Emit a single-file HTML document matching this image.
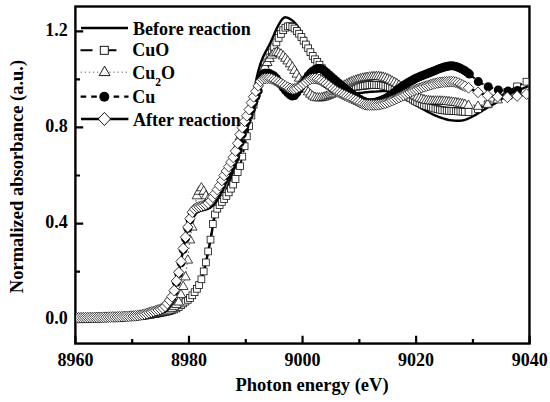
<!DOCTYPE html>
<html><head><meta charset="utf-8"><style>
html,body{margin:0;padding:0;background:#fff;width:550px;height:402px;overflow:hidden}
svg{display:block}
text{font-family:"Liberation Serif",serif}
</style></head><body>
<svg width="550" height="402" viewBox="0 0 550 402">
<defs>
<clipPath id="pc"><rect x="76.5" y="7.6" width="451.8" height="334.8"/></clipPath>
<marker id="msq" markerUnits="userSpaceOnUse" markerWidth="12" markerHeight="12" refX="6" refY="6" overflow="visible"><rect x="2.6" y="2.6" width="6.8" height="6.8" fill="#fff" stroke="#111" stroke-width="0.8"/></marker>
<marker id="mtr" markerUnits="userSpaceOnUse" markerWidth="12" markerHeight="12" refX="6" refY="6" overflow="visible"><path d="M6 1.5 L10.8 9.8 L1.2 9.8 Z" fill="#fff" stroke="#111" stroke-width="0.8"/></marker>
<marker id="mci" markerUnits="userSpaceOnUse" markerWidth="12" markerHeight="12" refX="6" refY="6" overflow="visible"><circle cx="6" cy="6" r="4.5" fill="#000"/></marker>
<marker id="mdi" markerUnits="userSpaceOnUse" markerWidth="14" markerHeight="14" refX="7" refY="7" overflow="visible"><path d="M7 1.6 L12.25 7 L7 12.4 L1.75 7 Z" fill="#fff" stroke="#111" stroke-width="0.8"/></marker>
</defs>
<rect width="550" height="402" fill="#fff"/>

<rect x="75.4" y="6.5" width="454.05" height="337.05" fill="none" stroke="#000" stroke-width="2.4"/>
<path d="M75.40 343.55V335.75 M132.19 343.55V338.95 M188.98 343.55V335.75 M245.77 343.55V338.95 M302.56 343.55V335.75 M359.35 343.55V338.95 M416.14 343.55V335.75 M472.93 343.55V338.95 M529.72 343.55V335.75 M75.4 319.70H83.20 M75.4 271.64H80.00 M75.4 223.58H83.20 M75.4 175.52H80.00 M75.4 127.46H83.20 M75.4 79.40H80.00 M75.4 31.34H83.20" stroke="#000" stroke-width="2.2" fill="none"/>
<g clip-path="url(#pc)" fill="none">
<polyline points="76,318 77,318 78,318 79,318 80,318 81,318 82,318 83,317.9 84,317.9 85,317.9 86,317.9 87,317.9 88,317.9 89,317.9 90,317.8 91,317.8 92,317.8 93,317.8 94,317.8 95,317.8 96,317.7 97,317.7 98,317.7 99,317.7 100,317.6 101,317.6 102,317.6 103,317.6 104,317.6 105,317.5 106,317.5 107,317.5 108,317.5 109,317.4 110,317.4 111,317.4 112,317.3 113,317.3 114,317.3 115,317.2 116,317.2 117,317.2 118,317.1 119,317.1 120,317 121,317 122,316.9 123,316.9 124,316.8 125,316.8 126,316.7 127,316.6 128,316.6 129,316.5 130,316.5 131,316.4 132,316.3 133,316.3 134,316.2 135,316.1 136,316.1 137,316 138,315.9 139,315.9 140,315.8 141,315.7 142,315.6 143,315.6 144,315.5 145,315.4 146,315.2 147,315.1 148,315 149,314.8 150,314.7 151,314.6 152,314.4 153,314.2 154,314.1 155,313.9 156,313.7 157,313.5 158,313.4 159,313.2 160,313 161,312.8 162,312.6 163,312.4 164,312.2 165,312 166,311.8 167,311.5 168,311.2 169,310.9 170,310.6 171,310.2 172,309.8 173,309.4 174,308.9 175,308.5 176,308 177,307.5 178,307 179,306.5 180,306 181,305.4 182,304.8 183,304.1 184,303.3 185,302.5 186,301.7 187,300.8 188,299.9 189,298.9 190,298 191,297 192,295.9 193,294.7 194,293.4 195,291.9 196,290.4 197,288.7 198,287 199,285 200,282.7 201,280 202,277 203,273.7 204,270.2 205,266.4 206,262 207,257.3 208,252.4 209,247.6 210,242.6 211,237.2 212,231 213,225 214,219.3 215,215.3 216,212.7 217,210.8 218,209 219,207.3 220,205.8 221,204.2 222,202.4 223,200 224,197.3 225,194.5 226,191.7 227,188.8 228,186 229,183.2 230,180.5 231,177.7 232,175 233,172.2 234,169.5 235,166.7 236,164 237,161.3 238,158.8 239,156.2 240,153.7 241,151.1 242,148.3 243,145 244,141.5 245,137.7 246,133.9 247,130 248,126 249,121.8 250,117.4 251,112.7 252,108 253,102.2 254,95.1 255,87.8 256,81.1 257,76.2 258,72.2 259,68.5 260,65.2 261,62.2 262,59.6 263,57.2 264,55 265,53 266,51.1 267,49.3 268,47.4 269,45.6 270,43.6 271,41.5 272,39.3 273,37 274,34.7 275,32.3 276,30.1 277,28 278,26 279,24.2 280,22.5 281,20.9 282,19.5 283,18.4 284,17.7 285,17.3 286,17.4 287,17.6 288,17.9 289,18.4 290,19 291,19.6 292,20.3 293,21.1 294,22 295,23.1 296,24.3 297,25.5 298,26.9 299,28.4 300,30 301,31.7 302,33.3 303,35 304,36.7 305,38.4 306,40.1 307,41.8 308,43.5 309,45.3 310,47 311,48.8 312,50.6 313,52.4 314,54.2 315,56 316,57.8 317,59.6 318,61.4 319,63.2 320,65 321,66.7 322,68.4 323,70 324,71.6 325,73.1 326,74.5 327,76 328,77.3 329,78.7 330,80 331,81.3 332,82.4 333,83.5 334,84.5 335,85.4 336,86.3 337,87.1 338,87.8 339,88.4 340,89 341,89.5 342,90 343,90.5 344,91 345,91.4 346,91.8 347,92.1 348,92.4 349,92.7 350,92.9 351,93.1 352,93.2 353,93.3 354,93.3 355,93.3 356,93.2 357,93.2 358,93.1 359,93 360,93 361,92.9 362,92.8 363,92.6 364,92.5 365,92.4 366,92.3 367,92.2 368,92.1 369,92 370,91.9 371,91.8 372,91.7 373,91.7 374,91.6 375,91.6 376,91.6 377,91.5 378,91.4 379,91.4 380,91.3 381,91.2 382,91.1 383,91.1 384,91 385,91 386,91 387,91 388,91.1 389,91.2 390,91.3 391,91.5 392,91.7 393,92 394,92.4 395,92.8 396,93.3 397,93.7 398,94.3 399,94.8 400,95.4 401,96 402,96.6 403,97.2 404,97.8 405,98.4 406,99 407,99.6 408,100.2 409,100.8 410,101.4 411,102 412,102.7 413,103.3 414,103.9 415,104.5 416,105.1 417,105.7 418,106.3 419,106.9 420,107.5 421,108.1 422,108.7 423,109.2 424,109.8 425,110.3 426,110.9 427,111.4 428,111.9 429,112.5 430,113 431,113.5 432,114 433,114.5 434,114.9 435,115.4 436,115.8 437,116.2 438,116.6 439,117 440,117.3 441,117.7 442,118 443,118.4 444,118.7 445,119 446,119.3 447,119.5 448,119.8 449,120 450,120.1 451,120.3 452,120.4 453,120.5 454,120.6 455,120.6 456,120.7 457,120.7 458,120.7 459,120.7 460,120.7 461,120.6 462,120.5 463,120.4 464,120.1 465,119.9 466,119.5 467,119.1 468,118.7 469,118.2 470,117.7 471,117.3 472,116.8 473,116.2 474,115.7 475,115.1 476,114.6 477,114 478,113.4 479,112.8 480,112.2 481,111.6 482,110.9 483,110.3 484,109.7 485,109.1 486,108.5 487,107.9 488,107.3 489,106.7 490,106.2 491,105.6 492,105.1 493,104.5 494,104 495,103.4 496,102.8 497,102.2 498,101.5 499,100.7 500,100 501,99.3 502,98.6 503,98 504,97.4 505,96.8 506,96.2 507,95.6 508,95 509,94.5 510,94 511,93.5 512,93 513,92.6 514,92.1 515,91.7 516,91.2 517,90.8 518,90.3 519,89.9 520,89.5 521,89.1 522,88.7 523,88.3 524,87.9 525,87.5 526,87.1 527,86.7 528,86.3 529,85.9" stroke="#000" stroke-width="2.4" stroke-linejoin="round"/>
<polyline points="71.9,318.4 74.2,318.4 76.5,318.4 78.7,318.4 81,318.4 83.3,318.4 85.5,318.3 87.8,318.3 90.1,318.3 92.4,318.2 94.6,318.2 96.9,318.1 99.2,318.1 101.4,318 103.7,318 106,317.9 108.3,317.8 110.5,317.8 112.8,317.7 115.1,317.6 117.4,317.5 119.6,317.4 121.9,317.3 124.2,317.1 126.4,317 128.7,316.8 131,316.7 133.3,316.5 135.5,316.3 137.8,316.2 140.1,316 142.3,315.8 144.6,315.6 146.9,315.3 149.2,314.9 151.4,314.6 153.7,314.2 156,313.8 158.2,313.4 160.5,312.9 162.8,312.5 165.1,312 167.3,311.5 169.6,311 171.9,310.3 174.1,309.5 176.4,308.4 178.7,307 181,305.2 183.2,303.4 185.5,301.6 187.8,299.8 190,298 192.3,295.3 194.6,292.2 196.9,288.8 199.1,285 201.4,279.3 203.7,271.4 205.9,262.4 208.2,251.4 210.5,239.6 212.8,224 215,214.5 217.3,208.7 219.6,205.1 221.8,201.9 224.1,199.1 226.4,195.9 228.7,192.4 230.9,188.7 233.2,184.5 235.5,179 237.7,172.2 240,166.2 242.3,156.6 244.6,146.3 246.8,136.3 249.1,126.1 251.4,115.5 253.6,104.6 255.9,95.3 258.2,87.3 260.5,79.5 262.7,72.9 265,67.6 267.3,62.4 269.5,57.4 271.8,52.4 274.1,47.4 276.4,42.4 278.6,37.9 280.9,33.9 283.2,30.2 285.4,27.7 287.7,26.4 290,26.1 292.3,26.8 294.5,28.5 296.8,31 299.1,33.7 301.4,37 303.6,40.7 305.9,44.5 308.2,48.3 310.4,52.2 312.7,56 315,59.3 317.3,61.9 319.5,64.7 321.8,68.2 324.1,71.7 326.3,74.7 328.6,77.4 330.9,79.7 333.2,81.6 335.4,83.3 337.7,84.7 340,85.8 342.2,86.6 344.5,87 346.8,87 349.1,87 351.3,86.9 353.6,86.8 355.9,86.7 358.1,86.5 360.4,86.2 362.7,86 365,85.7 367.2,85.4 369.5,85.1 371.8,84.9 374,84.9 376.3,84.9 378.6,85 380.9,85.2 383.1,85.6 385.4,86.1 387.7,86.7 389.9,87.4 392.2,88.2 394.5,89.2 396.8,90.3 399,91.5 401.3,92.8 403.6,94.1 405.8,95.5 408.1,96.9 410.4,98.2 412.7,99.5 414.9,100.8 417.2,102.1 419.5,103.2 421.7,104.3 424,105.2 426.3,105.9 428.6,106.6 430.8,107.2 433.1,107.9 435.4,108.6 437.6,109.2 439.9,109.7 442.2,110.2 444.5,110.5 446.7,110.6 449,110.8 451.3,110.9 453.5,111.1 455.8,111.2 458.1,111.4 460.4,111.5 462.6,111.7 464.9,111.8 468.5,112 478,109 487.6,104.4 497.6,97.9 507.4,91.8 517.1,86.4 526.5,81.7" stroke="#000" stroke-width="2" stroke-dasharray="12 8"/>
<polyline points="71.9,318.4 74.2,318.4 76.5,318.4 78.7,318.4 81,318.4 83.3,318.4 85.5,318.3 87.8,318.3 90.1,318.3 92.4,318.2 94.6,318.2 96.9,318.1 99.2,318.1 101.4,318 103.7,318 106,317.9 108.3,317.8 110.5,317.8 112.8,317.7 115.1,317.6 117.4,317.5 119.6,317.4 121.9,317.3 124.2,317.1 126.4,317 128.7,316.8 131,316.7 133.3,316.5 135.5,316.3 137.8,316.2 140.1,316 142.3,315.8 144.6,315.6 146.9,315.3 149.2,314.9 151.4,314.6 153.7,314.2 156,313.8 158.2,313.4 160.5,312.9 162.8,312.5 165.1,312 167.3,311.5 169.6,311 171.9,310.3 174.1,309.5 176.4,308.4 178.7,307 181,305.2 183.2,303.4 185.5,301.6 187.8,299.8 190,298 192.3,295.3 194.6,292.2 196.9,288.8 199.1,285 201.4,279.3 203.7,271.4 205.9,262.4 208.2,251.4 210.5,239.6 212.8,224 215,214.5 217.3,208.7 219.6,205.1 221.8,201.9 224.1,199.1 226.4,195.9 228.7,192.4 230.9,188.7 233.2,184.5 235.5,179 237.7,172.2 240,166.2 242.3,156.6 244.6,146.3 246.8,136.3 249.1,126.1 251.4,115.5 253.6,104.6 255.9,95.3 258.2,87.3 260.5,79.5 262.7,72.9 265,67.6 267.3,62.4 269.5,57.4 271.8,52.4 274.1,47.4 276.4,42.4 278.6,37.9 280.9,33.9 283.2,30.2 285.4,27.7 287.7,26.4 290,26.1 292.3,26.8 294.5,28.5 296.8,31 299.1,33.7 301.4,37 303.6,40.7 305.9,44.5 308.2,48.3 310.4,52.2 312.7,56 315,59.3 317.3,61.9 319.5,64.7 321.8,68.2 324.1,71.7 326.3,74.7 328.6,77.4 330.9,79.7 333.2,81.6 335.4,83.3 337.7,84.7 340,85.8 342.2,86.6 344.5,87 346.8,87 349.1,87 351.3,86.9 353.6,86.8 355.9,86.7 358.1,86.5 360.4,86.2 362.7,86 365,85.7 367.2,85.4 369.5,85.1 371.8,84.9 374,84.9 376.3,84.9 378.6,85 380.9,85.2 383.1,85.6 385.4,86.1 387.7,86.7 389.9,87.4 392.2,88.2 394.5,89.2 396.8,90.3 399,91.5 401.3,92.8 403.6,94.1 405.8,95.5 408.1,96.9 410.4,98.2 412.7,99.5 414.9,100.8 417.2,102.1 419.5,103.2 421.7,104.3 424,105.2 426.3,105.9 428.6,106.6 430.8,107.2 433.1,107.9 435.4,108.6 437.6,109.2 439.9,109.7 442.2,110.2 444.5,110.5 446.7,110.6 449,110.8 451.3,110.9 453.5,111.1 455.8,111.2 458.1,111.4 460.4,111.5 462.6,111.7 464.9,111.8 468.5,112 478,109 487.6,104.4 497.6,97.9 507.4,91.8 517.1,86.4 526.5,81.7" stroke="none" marker-start="url(#msq)" marker-mid="url(#msq)" marker-end="url(#msq)"/>
<polyline points="71.9,318.2 74.2,318.2 76.5,318.2 78.7,318.2 81,318.2 83.3,318.2 85.5,318.2 87.8,318.2 90.1,318.1 92.4,318.1 94.6,318 96.9,318 99.2,317.9 101.4,317.9 103.7,317.8 106,317.7 108.3,317.7 110.5,317.6 112.8,317.5 115.1,317.4 117.4,317.3 119.6,317.2 121.9,317 124.2,316.9 126.4,316.7 128.7,316.5 131,316.3 133.3,316.1 135.5,315.9 137.8,315.7 140.1,315.5 142.3,315.2 144.6,314.9 146.9,314.5 149.2,314.1 151.4,313.7 153.7,313.3 156,312.8 158.2,312.3 160.5,311.9 162.8,311.5 165.1,311 167.3,310.3 169.6,309.2 171.9,307.6 174.1,305.6 176.4,303.7 178.7,301.2 181,293.8 183.2,285.7 185.5,276.1 187.8,259.3 190,239.1 192.3,226.3 194.6,208.6 196.9,195 199.1,190.5 201.4,187 203.7,190.4 205.9,195 208.2,198.5 210.5,200.8 212.8,198 215,194.3 217.3,190.5 219.6,186.5 221.8,181.4 224.1,176.4 226.4,172 228.7,167.6 230.9,163.1 233.2,158.3 235.5,152.2 237.7,144.7 240,136 242.3,128.8 244.6,122.4 246.8,116.8 249.1,110.8 251.4,104 253.6,97.8 255.9,92.3 258.2,83.1 260.5,76.1 262.7,70.7 265,66 267.3,61.7 269.5,57.7 271.8,54.4 274.1,52.2 276.4,51.5 278.6,51.9 280.9,53.2 283.2,55.2 285.4,57.5 287.7,60.1 290,63 292.3,66.2 294.5,69.6 296.8,73.4 299.1,77.4 301.4,81.2 303.6,84.9 305.9,88.3 308.2,91.1 310.4,93.4 312.7,95.3 315,96.5 317.3,97 319.5,97.1 321.8,96.8 324.1,96.3 326.3,95.5 328.6,94.6 330.9,93.6 333.2,92.4 335.4,90.9 337.7,89.2 340,87.4 342.2,85.7 344.5,84.3 346.8,83.1 349.1,82 351.3,81 353.6,80.1 355.9,79.3 358.1,78.5 360.4,77.9 362.7,77.3 365,76.9 367.2,76.5 369.5,76.2 371.8,75.9 374,75.8 376.3,75.7 378.6,75.7 380.9,76 383.1,76.4 385.4,77.1 387.7,78 389.9,79.1 392.2,80.3 394.5,81.5 396.8,82.9 399,84.4 401.3,85.9 403.6,87.5 405.8,89.1 408.1,90.7 410.4,92.2 412.7,93.7 414.9,95 417.2,96.2 419.5,97.3 421.7,98.2 424,98.9 426.3,99.5 428.6,99.8 430.8,100.1 433.1,100.2 435.4,100.2 437.6,100.2 439.9,100.2 442.2,100.3 444.5,100.4 446.7,100.7 449,100.9 451.3,101.2 453.5,101.5 455.8,101.8 458.1,102.2 460.4,102.6 462.6,103.1 464.9,103.6 468.5,104.5 478,105.5 487.6,103.5 497.6,99.1 507.4,95.1 517.1,92.2" stroke="#555" stroke-width="1" stroke-dasharray="1.5 2.5"/>
<polyline points="71.9,318.2 74.2,318.2 76.5,318.2 78.7,318.2 81,318.2 83.3,318.2 85.5,318.2 87.8,318.2 90.1,318.1 92.4,318.1 94.6,318 96.9,318 99.2,317.9 101.4,317.9 103.7,317.8 106,317.7 108.3,317.7 110.5,317.6 112.8,317.5 115.1,317.4 117.4,317.3 119.6,317.2 121.9,317 124.2,316.9 126.4,316.7 128.7,316.5 131,316.3 133.3,316.1 135.5,315.9 137.8,315.7 140.1,315.5 142.3,315.2 144.6,314.9 146.9,314.5 149.2,314.1 151.4,313.7 153.7,313.3 156,312.8 158.2,312.3 160.5,311.9 162.8,311.5 165.1,311 167.3,310.3 169.6,309.2 171.9,307.6 174.1,305.6 176.4,303.7 178.7,301.2 181,293.8 183.2,285.7 185.5,276.1 187.8,259.3 190,239.1 192.3,226.3 194.6,208.6 196.9,195 199.1,190.5 201.4,187 203.7,190.4 205.9,195 208.2,198.5 210.5,200.8 212.8,198 215,194.3 217.3,190.5 219.6,186.5 221.8,181.4 224.1,176.4 226.4,172 228.7,167.6 230.9,163.1 233.2,158.3 235.5,152.2 237.7,144.7 240,136 242.3,128.8 244.6,122.4 246.8,116.8 249.1,110.8 251.4,104 253.6,97.8 255.9,92.3 258.2,83.1 260.5,76.1 262.7,70.7 265,66 267.3,61.7 269.5,57.7 271.8,54.4 274.1,52.2 276.4,51.5 278.6,51.9 280.9,53.2 283.2,55.2 285.4,57.5 287.7,60.1 290,63 292.3,66.2 294.5,69.6 296.8,73.4 299.1,77.4 301.4,81.2 303.6,84.9 305.9,88.3 308.2,91.1 310.4,93.4 312.7,95.3 315,96.5 317.3,97 319.5,97.1 321.8,96.8 324.1,96.3 326.3,95.5 328.6,94.6 330.9,93.6 333.2,92.4 335.4,90.9 337.7,89.2 340,87.4 342.2,85.7 344.5,84.3 346.8,83.1 349.1,82 351.3,81 353.6,80.1 355.9,79.3 358.1,78.5 360.4,77.9 362.7,77.3 365,76.9 367.2,76.5 369.5,76.2 371.8,75.9 374,75.8 376.3,75.7 378.6,75.7 380.9,76 383.1,76.4 385.4,77.1 387.7,78 389.9,79.1 392.2,80.3 394.5,81.5 396.8,82.9 399,84.4 401.3,85.9 403.6,87.5 405.8,89.1 408.1,90.7 410.4,92.2 412.7,93.7 414.9,95 417.2,96.2 419.5,97.3 421.7,98.2 424,98.9 426.3,99.5 428.6,99.8 430.8,100.1 433.1,100.2 435.4,100.2 437.6,100.2 439.9,100.2 442.2,100.3 444.5,100.4 446.7,100.7 449,100.9 451.3,101.2 453.5,101.5 455.8,101.8 458.1,102.2 460.4,102.6 462.6,103.1 464.9,103.6 468.5,104.5 478,105.5 487.6,103.5 497.6,99.1 507.4,95.1 517.1,92.2" stroke="none" marker-start="url(#mtr)" marker-mid="url(#mtr)" marker-end="url(#mtr)"/>
<polyline points="71.9,318 74.2,318 76.5,318 78.7,318 81,318 83.3,318 85.5,318 87.8,317.9 90.1,317.9 92.4,317.8 94.6,317.8 96.9,317.7 99.2,317.7 101.4,317.6 103.7,317.6 106,317.5 108.3,317.4 110.5,317.4 112.8,317.3 115.1,317.3 117.4,317.2 119.6,317.1 121.9,317 124.2,316.9 126.4,316.7 128.7,316.6 131,316.4 133.3,316.2 135.5,315.9 137.8,315.7 140.1,315.4 142.3,315 144.6,314.5 146.9,313.9 149.2,313.2 151.4,312.5 153.7,311.9 156,311.2 158.2,310.6 160.5,309.9 162.8,309 165.1,307.7 167.3,304.7 169.6,301.5 171.9,297.9 174.1,291.7 176.4,282.2 178.7,273.5 181,262.7 183.2,249.6 185.5,238.4 187.8,228.3 190,219.8 192.3,213.4 194.6,210.4 196.9,208.8 199.1,207.8 201.4,207.2 203.7,206.7 205.9,206 208.2,205 210.5,203.4 212.8,200.9 215,197.3 217.3,193.5 219.6,189.7 221.8,185.6 224.1,180.2 226.4,175.5 228.7,171.1 230.9,166.7 233.2,162.1 235.5,157.2 237.7,150.6 240,142.7 242.3,134.3 244.6,127.3 246.8,121.2 249.1,115.6 251.4,109.4 253.6,102.5 255.9,96.6 258.2,90.9 260.5,78.8 262.7,74.4 265,73.3 267.3,73.2 269.5,73.6 271.8,74.7 274.1,76.1 276.4,78.4 278.6,81.5 280.9,84.6 283.2,87.5 285.4,90.2 287.7,92.8 290,94.8 292.3,96.1 294.5,95.6 296.8,92.8 299.1,89.4 301.4,86 303.6,82.6 305.9,79.2 308.2,75.8 310.4,73.1 312.7,71.2 315,69.6 317.3,68.6 319.5,68.5 321.8,69.1 324.1,70.6 326.3,72.5 328.6,74.5 330.9,76.5 333.2,78.5 335.4,80.4 337.7,82.4 340,84.3 342.2,86.2 344.5,88.1 346.8,89.9 349.1,91.7 351.3,93.5 353.6,95.2 355.9,96.8 358.1,98.3 360.4,99.6 362.7,100.9 365,101.8 367.2,102.5 369.5,102.8 371.8,102.8 374,102.5 376.3,102 378.6,101.3 380.9,100.5 383.1,99.5 385.4,98.5 387.7,97.2 389.9,95.7 392.2,94.1 394.5,92.4 396.8,90.6 399,88.7 401.3,87 403.6,85.5 405.8,84 408.1,82.6 410.4,81.3 412.7,80 414.9,78.8 417.2,77.7 419.5,76.7 421.7,75.8 424,74.9 426.3,74 428.6,73.1 430.8,72.2 433.1,71.3 435.4,70.4 437.6,69.4 439.9,68.5 442.2,67.7 444.5,67 446.7,66.5 449,66 451.3,65.8 453.5,65.9 455.8,66.4 458.1,67.2 460.4,68.2 462.6,69.4 464.9,70.8 467.2,72.4 469.4,74.1 478.3,81.6 488.2,86.7 498.3,90 508.1,91.1 517.5,90.4" stroke="#000" stroke-width="2" stroke-dasharray="5.5 5"/>
<polyline points="71.9,318 74.2,318 76.5,318 78.7,318 81,318 83.3,318 85.5,318 87.8,317.9 90.1,317.9 92.4,317.8 94.6,317.8 96.9,317.7 99.2,317.7 101.4,317.6 103.7,317.6 106,317.5 108.3,317.4 110.5,317.4 112.8,317.3 115.1,317.3 117.4,317.2 119.6,317.1 121.9,317 124.2,316.9 126.4,316.7 128.7,316.6 131,316.4 133.3,316.2 135.5,315.9 137.8,315.7 140.1,315.4 142.3,315 144.6,314.5 146.9,313.9 149.2,313.2 151.4,312.5 153.7,311.9 156,311.2 158.2,310.6 160.5,309.9 162.8,309 165.1,307.7 167.3,304.7 169.6,301.5 171.9,297.9 174.1,291.7 176.4,282.2 178.7,273.5 181,262.7 183.2,249.6 185.5,238.4 187.8,228.3 190,219.8 192.3,213.4 194.6,210.4 196.9,208.8 199.1,207.8 201.4,207.2 203.7,206.7 205.9,206 208.2,205 210.5,203.4 212.8,200.9 215,197.3 217.3,193.5 219.6,189.7 221.8,185.6 224.1,180.2 226.4,175.5 228.7,171.1 230.9,166.7 233.2,162.1 235.5,157.2 237.7,150.6 240,142.7 242.3,134.3 244.6,127.3 246.8,121.2 249.1,115.6 251.4,109.4 253.6,102.5 255.9,96.6 258.2,90.9 260.5,78.8 262.7,74.4 265,73.3 267.3,73.2 269.5,73.6 271.8,74.7 274.1,76.1 276.4,78.4 278.6,81.5 280.9,84.6 283.2,87.5 285.4,90.2 287.7,92.8 290,94.8 292.3,96.1 294.5,95.6 296.8,92.8 299.1,89.4 301.4,86 303.6,82.6 305.9,79.2 308.2,75.8 310.4,73.1 312.7,71.2 315,69.6 317.3,68.6 319.5,68.5 321.8,69.1 324.1,70.6 326.3,72.5 328.6,74.5 330.9,76.5 333.2,78.5 335.4,80.4 337.7,82.4 340,84.3 342.2,86.2 344.5,88.1 346.8,89.9 349.1,91.7 351.3,93.5 353.6,95.2 355.9,96.8 358.1,98.3 360.4,99.6 362.7,100.9 365,101.8 367.2,102.5 369.5,102.8 371.8,102.8 374,102.5 376.3,102 378.6,101.3 380.9,100.5 383.1,99.5 385.4,98.5 387.7,97.2 389.9,95.7 392.2,94.1 394.5,92.4 396.8,90.6 399,88.7 401.3,87 403.6,85.5 405.8,84 408.1,82.6 410.4,81.3 412.7,80 414.9,78.8 417.2,77.7 419.5,76.7 421.7,75.8 424,74.9 426.3,74 428.6,73.1 430.8,72.2 433.1,71.3 435.4,70.4 437.6,69.4 439.9,68.5 442.2,67.7 444.5,67 446.7,66.5 449,66 451.3,65.8 453.5,65.9 455.8,66.4 458.1,67.2 460.4,68.2 462.6,69.4 464.9,70.8 467.2,72.4 469.4,74.1 478.3,81.6 488.2,86.7 498.3,90 508.1,91.1 517.5,90.4" stroke="none" marker-start="url(#mci)" marker-mid="url(#mci)" marker-end="url(#mci)"/>
<polyline points="71.9,317.9 74.2,317.9 76.5,317.9 78.7,317.8 81,317.8 83.3,317.7 85.5,317.7 87.8,317.7 90.1,317.6 92.4,317.6 94.6,317.5 96.9,317.5 99.2,317.4 101.4,317.4 103.7,317.3 106,317.3 108.3,317.2 110.5,317.1 112.8,317 115.1,317 117.4,316.9 119.6,316.8 121.9,316.7 124.2,316.5 126.4,316.4 128.7,316.3 131,316.1 133.3,316 135.5,315.8 137.8,315.6 140.1,315.2 142.3,314.8 144.6,314.2 146.9,313.5 149.2,312.8 151.4,312.1 153.7,311.4 156,310.7 158.2,310 160.5,309.2 162.8,308.1 165.1,306.4 167.3,303.5 169.6,300.3 171.9,296.7 174.1,290.5 176.4,281 178.7,272.3 181,261.5 183.2,248.4 185.5,237.2 187.8,227.1 190,218.6 192.3,212.2 194.6,209.1 196.9,207.6 199.1,206.9 201.4,206.2 203.7,205.4 205.9,204.5 208.2,203.2 210.5,200.8 212.8,197.2 215,193.5 217.3,189.6 219.6,185.6 221.8,180.4 224.1,175.5 226.4,171.1 228.7,166.7 230.9,162.1 233.2,157.3 235.5,151 237.7,143.3 240,134.6 242.3,127.6 244.6,121.3 246.8,115.8 249.1,109.6 251.4,102.7 253.6,96.8 255.9,91.2 258.2,85.8 260.5,81.3 262.7,79.2 265,78.5 267.3,78.3 269.5,78.3 271.8,78.9 274.1,80 276.4,81.1 278.6,82.3 280.9,83.5 283.2,84.8 285.4,86.1 287.7,87.4 290,88.4 292.3,89 294.5,88.9 296.8,88.1 299.1,86.9 301.4,85.4 303.6,83.8 305.9,82 308.2,80.4 310.4,79.2 312.7,78.6 315,78.5 317.3,78.9 319.5,79.7 321.8,81 324.1,82.4 326.3,83.9 328.6,85.4 330.9,87.1 333.2,88.9 335.4,90.5 337.7,91.9 340,93 342.2,94.1 344.5,95.2 346.8,96.2 349.1,97.3 351.3,98.3 353.6,99.4 355.9,100.4 358.1,101.6 360.4,102.8 362.7,103.9 365,104.6 367.2,104.9 369.5,105 371.8,105 374,105 376.3,104.9 378.6,104.7 380.9,104.3 383.1,103.8 385.4,103.2 387.7,102.4 389.9,101.5 392.2,100.6 394.5,99.6 396.8,98.5 399,97.5 401.3,96.4 403.6,95.2 405.8,94.1 408.1,93 410.4,92 412.7,91 414.9,90 417.2,89.2 419.5,88.3 421.7,87.6 424,86.8 426.3,86.1 428.6,85.4 430.8,84.7 433.1,84 435.4,83.4 437.6,82.9 439.9,82.5 442.2,82.3 444.5,82 446.7,81.8 449,81.7 451.3,81.6 453.5,81.8 455.8,82.2 458.1,83 460.4,84.1 462.6,85.1 464.9,86.2 468.5,87.8 478,92.3 487.6,95.5 497.6,96.7 507.4,97.3 517.1,96 526.5,94.1" stroke="#000" stroke-width="2.4" stroke-linejoin="round"/>
<polyline points="71.9,317.9 74.2,317.9 76.5,317.9 78.7,317.8 81,317.8 83.3,317.7 85.5,317.7 87.8,317.7 90.1,317.6 92.4,317.6 94.6,317.5 96.9,317.5 99.2,317.4 101.4,317.4 103.7,317.3 106,317.3 108.3,317.2 110.5,317.1 112.8,317 115.1,317 117.4,316.9 119.6,316.8 121.9,316.7 124.2,316.5 126.4,316.4 128.7,316.3 131,316.1 133.3,316 135.5,315.8 137.8,315.6 140.1,315.2 142.3,314.8 144.6,314.2 146.9,313.5 149.2,312.8 151.4,312.1 153.7,311.4 156,310.7 158.2,310 160.5,309.2 162.8,308.1 165.1,306.4 167.3,303.5 169.6,300.3 171.9,296.7 174.1,290.5 176.4,281 178.7,272.3 181,261.5 183.2,248.4 185.5,237.2 187.8,227.1 190,218.6 192.3,212.2 194.6,209.1 196.9,207.6 199.1,206.9 201.4,206.2 203.7,205.4 205.9,204.5 208.2,203.2 210.5,200.8 212.8,197.2 215,193.5 217.3,189.6 219.6,185.6 221.8,180.4 224.1,175.5 226.4,171.1 228.7,166.7 230.9,162.1 233.2,157.3 235.5,151 237.7,143.3 240,134.6 242.3,127.6 244.6,121.3 246.8,115.8 249.1,109.6 251.4,102.7 253.6,96.8 255.9,91.2 258.2,85.8 260.5,81.3 262.7,79.2 265,78.5 267.3,78.3 269.5,78.3 271.8,78.9 274.1,80 276.4,81.1 278.6,82.3 280.9,83.5 283.2,84.8 285.4,86.1 287.7,87.4 290,88.4 292.3,89 294.5,88.9 296.8,88.1 299.1,86.9 301.4,85.4 303.6,83.8 305.9,82 308.2,80.4 310.4,79.2 312.7,78.6 315,78.5 317.3,78.9 319.5,79.7 321.8,81 324.1,82.4 326.3,83.9 328.6,85.4 330.9,87.1 333.2,88.9 335.4,90.5 337.7,91.9 340,93 342.2,94.1 344.5,95.2 346.8,96.2 349.1,97.3 351.3,98.3 353.6,99.4 355.9,100.4 358.1,101.6 360.4,102.8 362.7,103.9 365,104.6 367.2,104.9 369.5,105 371.8,105 374,105 376.3,104.9 378.6,104.7 380.9,104.3 383.1,103.8 385.4,103.2 387.7,102.4 389.9,101.5 392.2,100.6 394.5,99.6 396.8,98.5 399,97.5 401.3,96.4 403.6,95.2 405.8,94.1 408.1,93 410.4,92 412.7,91 414.9,90 417.2,89.2 419.5,88.3 421.7,87.6 424,86.8 426.3,86.1 428.6,85.4 430.8,84.7 433.1,84 435.4,83.4 437.6,82.9 439.9,82.5 442.2,82.3 444.5,82 446.7,81.8 449,81.7 451.3,81.6 453.5,81.8 455.8,82.2 458.1,83 460.4,84.1 462.6,85.1 464.9,86.2 468.5,87.8 478,92.3 487.6,95.5 497.6,96.7 507.4,97.3 517.1,96 526.5,94.1" stroke="none" marker-start="url(#mdi)" marker-mid="url(#mdi)" marker-end="url(#mdi)"/>
</g>
<g font-family="Liberation Serif" font-weight="bold" font-size="18" fill="#000">
<text x="67.8" y="35.9" text-anchor="end">1.2</text>
<text x="67.8" y="132.1" text-anchor="end">0.8</text>
<text x="67.8" y="228.2" text-anchor="end">0.4</text>
<text x="67.8" y="324.3" text-anchor="end">0.0</text>
<text x="75.4" y="365.5" text-anchor="middle">8960</text>
<text x="189.0" y="365.5" text-anchor="middle">8980</text>
<text x="302.6" y="365.5" text-anchor="middle">9000</text>
<text x="416.1" y="365.5" text-anchor="middle">9020</text>
<text x="529.7" y="365.5" text-anchor="middle">9040</text>
<text x="312" y="391" text-anchor="middle" font-size="18.5">Photon energy (eV)</text>
<text transform="translate(23.2,176.5) rotate(-90)" text-anchor="middle" font-size="18.5">Normalized absorbance (a.u.)</text>
<text x="133" y="34.6">Before reaction</text>
<text x="132.3" y="56">CuO</text>
<text x="132.3" y="79.2">Cu<tspan font-size="11.5" dy="6.3">2</tspan><tspan dy="-6.3">O</tspan></text>
<text x="132.3" y="103">Cu</text>
<text x="133" y="125.6">After reaction</text>
</g>
<g fill="none" stroke="#000">
<path d="M81 28H128" stroke-width="2.4"/>
<path d="M80.5 50.3H92.5M108.3 50.3H116.4" stroke-width="2"/>
<rect x="100.3" y="46.3" width="8" height="8" fill="#fff" stroke-width="0.9"/>
<path d="M80.6 72.2H128" stroke="#666" stroke-width="1" stroke-dasharray="1.3 2.8"/>
<path d="M104.6 66.2L110 75.6H99.2Z" fill="#fff" stroke-width="0.9"/>
<path d="M80.6 96.7H86.2M91.2 96.7H96.8M113.6 96.7H119.2M124.2 96.7H128.5" stroke-width="2.2"/>
<circle cx="104.3" cy="96.7" r="5" fill="#000" stroke="none"/>
<path d="M81 119H128.4" stroke-width="2.4"/>
<path d="M104.4 112.4L110.6 119L104.4 125.6L98.2 119Z" fill="#fff" stroke-width="0.9"/>
</g>
</svg>
</body></html>
